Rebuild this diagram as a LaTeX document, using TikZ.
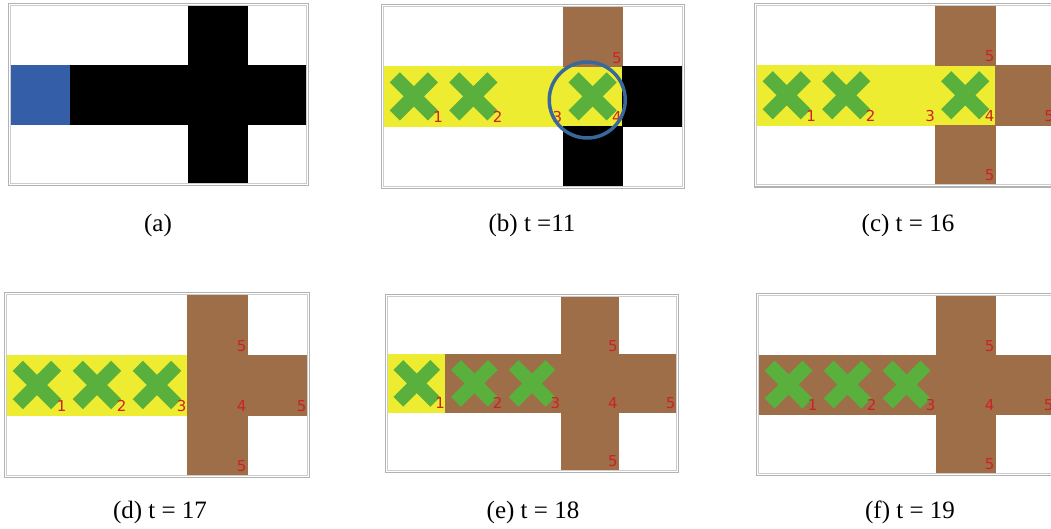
\documentclass[tikz,border=0pt]{standalone}
\usepackage{fontspec}
\setmainfont{Liberation Serif}
\newfontfamily\numfont{DejaVu Sans}

\definecolor{cyel}{RGB}{238,236,48}
\definecolor{cbrown}{RGB}{157,110,72}
\definecolor{cgreen}{RGB}{90,176,60}
\definecolor{cblue}{RGB}{52,94,168}
\definecolor{cring}{RGB}{58,104,154}
\definecolor{cred}{RGB}{206,34,34}

\def\cellsz{59}
\tikzset{
	cellbox/.style={shape=rectangle, inner sep=0, outer sep=0, minimum width=\cellsz pt, minimum height=\cellsz pt, line width=0.4pt},
	yelcell/.style={cellbox, fill=cyel, draw=cyel},
	browncell/.style={cellbox, fill=cbrown, draw=cbrown},
	blackcell/.style={cellbox, fill=black, draw=black},
	bluecell/.style={cellbox, fill=cblue, draw=cblue},
	xline/.style={draw=cgreen, line width=0.24*\cellsz pt},
	numlab/.style={text=cred, font=\numfont\fontsize{15}{15}\selectfont, inner sep=0, anchor=base east, xshift=-0.5pt, yshift=3.5pt},
	caplab/.style={font=\fontsize{25}{28}\selectfont},
	outframe/.style={draw=gray!60, line width=1.3pt},
	inframe/.style={draw=gray!40, line width=1pt}
}
\newcommand{\xcross}[2]{\draw[xline] (#1+0.18,#2+0.18) -- (#1+0.82,#2+0.82) (#1+0.82,#2+0.18) -- (#1+0.18,#2+0.82);}
\newcommand{\cellframe}{%
	\draw[inframe] ([shift={(-0.5pt,0.5pt)}]0,0) rectangle ([shift={(0.5pt,-0.5pt)}]5,3);
	\draw[outframe] ([shift={(-2.5pt,2.5pt)}]0,0) rectangle ([shift={(2.5pt,-2.5pt)}]5,3);}

\begin{document}
\begin{tikzpicture}[x=1pt, y=-1pt]
	\useasboundingbox (0,0) rectangle (1051,529);
	\clip (0,0) rectangle (1051,529);

	% (a)
	\def\cellsz{59}
	\begin{scope}[shift={(11,6)}, x=\cellsz pt, y=-\cellsz pt]
		\node[bluecell] (a0) at (0.5,1.5) {};
		\foreach \c in {1,...,4}
			{
				\node[blackcell] (a\c) at (\c+0.5,1.5) {};
			}
		\node[blackcell] (aup) at (3.5,0.5) {};
		\node[blackcell] (adown) at (3.5,2.5) {};
		\cellframe
	\end{scope}
	\node[caplab] (capa) at (158,225) {(a)};

	% (b)
	\def\cellsz{59.6}
	\begin{scope}[shift={(384,7)}, x=\cellsz pt, y=-\cellsz pt]
		\foreach \c in {0,...,3}
			{
				\node[yelcell] (b\c) at (\c+0.5,1.5) {};
			}
		\node[browncell] (bup) at (3.5,0.5) {};
		\node[blackcell] (bright) at (4.5,1.5) {};
		\node[blackcell] (bdown) at (3.5,2.5) {};
		\foreach \c in {0,1,3}
			{
				\xcross{\c}{1}
			}
		\foreach \nx/\ny/\nt in {1/2/1,2/2/2,3/2/3,4/2/4,4/1/5}
			{
				\node[numlab] (bn\nx\ny) at (\nx,\ny) {\nt};
			}
		\node[draw=cring, line width=3.5pt, shape=circle, minimum size=76pt, inner sep=0] (ring) at (3.41,1.56) {};
		\cellframe
	\end{scope}
	\node[caplab] (capb) at (532,225) {(b) t =11};

	% (c)
	\def\cellsz{59.5}
	\begin{scope}[shift={(757,6)}, x=\cellsz pt, y=-\cellsz pt]
		\foreach \c in {0,...,3}
			{
				\node[yelcell] (c\c) at (\c+0.5,1.5) {};
			}
		\node[browncell] (cup) at (3.5,0.5) {};
		\node[browncell] (cright) at (4.5,1.5) {};
		\node[browncell] (cdown) at (3.5,2.5) {};
		\foreach \c in {0,1,3}
			{
				\xcross{\c}{1}
			}
		\foreach \nx/\ny/\nt in {1/2/1,2/2/2,3/2/3,4/2/4,4/1/5,4/3/5,5/2/5}
			{
				\node[numlab] (cn\nx\ny) at (\nx,\ny) {\nt};
			}
		\cellframe
	\end{scope}
	\node[caplab] (capc) at (908,225) {(c) t = 16};

	% (d)
	\def\cellsz{60}
	\begin{scope}[shift={(7,295)}, x=\cellsz pt, y=-\cellsz pt]
		\foreach \c in {0,...,2}
			{
				\node[yelcell] (d\c) at (\c+0.5,1.5) {};
			}
		\foreach \r in {0,...,2}
			{
				\node[browncell] (dcol\r) at (3.5,\r+0.5) {};
			}
		\node[browncell] (dright) at (4.5,1.5) {};
		\foreach \c in {0,1,2}
			{
				\xcross{\c}{1}
			}
		\foreach \nx/\ny/\nt in {1/2/1,2/2/2,3/2/3,4/2/4,4/1/5,4/3/5,5/2/5}
			{
				\node[numlab] (dn\nx\ny) at (\nx,\ny) {\nt};
			}
		\cellframe
	\end{scope}
	\node[caplab] (capd) at (160,512) {(d) t = 17};

	% (e)
	\def\cellsz{57.6}
	\begin{scope}[shift={(388,297)}, x=\cellsz pt, y=-\cellsz pt]
		\node[yelcell] (e0) at (0.5,1.5) {};
		\foreach \c in {1,...,4}
			{
				\node[browncell] (e\c) at (\c+0.5,1.5) {};
			}
		\node[browncell] (eup) at (3.5,0.5) {};
		\node[browncell] (edown) at (3.5,2.5) {};
		\foreach \c in {0,1,2}
			{
				\xcross{\c}{1}
			}
		\foreach \nx/\ny/\nt in {1/2/1,2/2/2,3/2/3,4/2/4,4/1/5,4/3/5,5/2/5}
			{
				\node[numlab] (en\nx\ny) at (\nx,\ny) {\nt};
			}
		\cellframe
	\end{scope}
	\node[caplab] (cape) at (533,512) {(e) t = 18};

	% (f)
	\def\cellsz{59}
	\begin{scope}[shift={(759,296)}, x=\cellsz pt, y=-\cellsz pt]
		\foreach \c in {0,...,4}
			{
				\node[browncell] (f\c) at (\c+0.5,1.5) {};
			}
		\node[browncell] (fup) at (3.5,0.5) {};
		\node[browncell] (fdown) at (3.5,2.5) {};
		\foreach \c in {0,1,2}
			{
				\xcross{\c}{1}
			}
		\foreach \nx/\ny/\nt in {1/2/1,2/2/2,3/2/3,4/2/4,4/1/5,4/3/5,5/2/5}
			{
				\node[numlab] (fn\nx\ny) at (\nx,\ny) {\nt};
			}
		\cellframe
	\end{scope}
	\node[caplab] (capf) at (910,512) {(f) t = 19};
\end{tikzpicture}
\end{document}
